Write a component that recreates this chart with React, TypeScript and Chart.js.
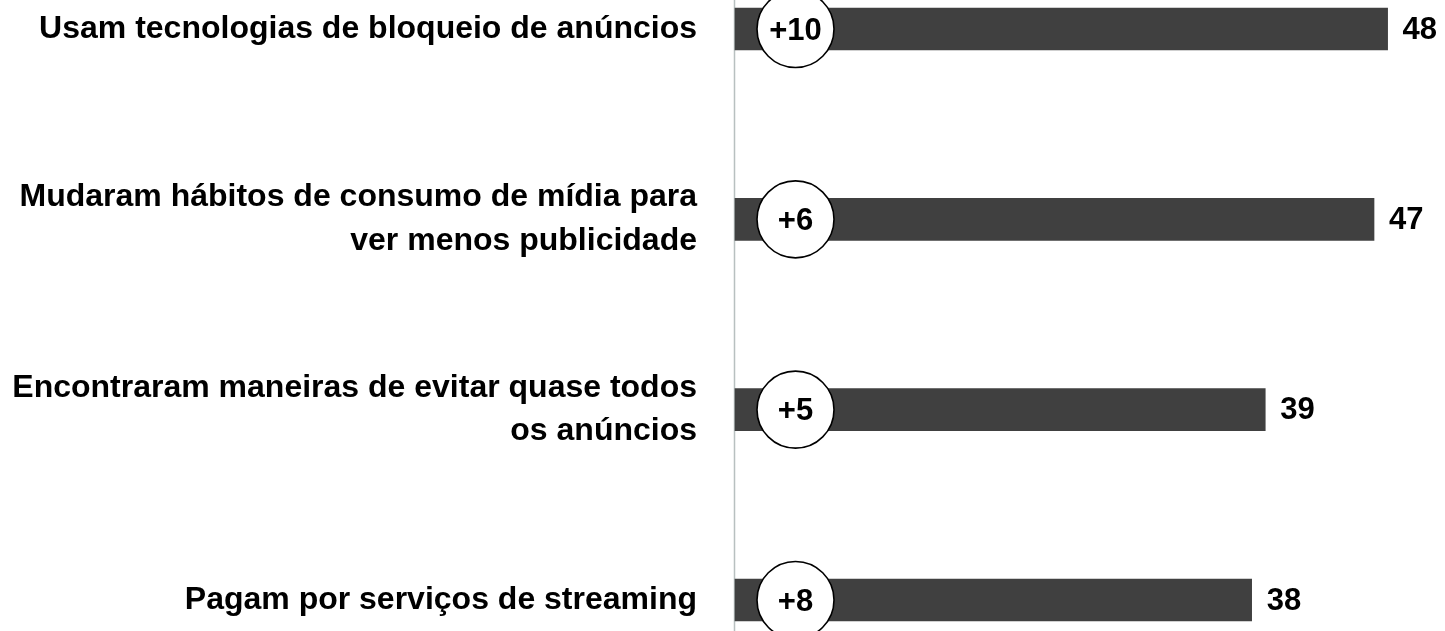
import React, { useEffect, useRef } from "react";
import { Chart, registerables } from "chart.js";

Chart.register(...registerables);

// ---- data ----
const categories: string[][] = [
  ["Usam tecnologias de bloqueio de anúncios"],
  ["Mudaram hábitos de consumo de mídia para", "ver menos publicidade"],
  ["Encontraram maneiras de evitar quase todos", "os anúncios"],
  ["Pagam por serviços de streaming"],
];
const values: number[] = [48, 47, 39, 38];
const changes: string[] = ["+10", "+6", "+5", "+8"];

// ---- styling constants ----
const FONT = "'Liberation Sans', Arial, Helvetica, sans-serif";
const BAR_COLOR = "#404040";
const AXIS_COLOR = "#b8c0c0";
const CIRCLE_AT = 4.45; // position of badge, in axis units
const CIRCLE_R = 38.5;

const overlayPlugin = {
  id: "overlay",
  beforeDatasetsDraw(chart: any) {
    const ctx = chart.ctx;
    const xs = chart.scales.x;
    const x0 = Math.round(xs.getPixelForValue(0)) - 0.5;
    ctx.save();
    ctx.strokeStyle = AXIS_COLOR;
    ctx.lineWidth = 1.5;
    ctx.beginPath();
    ctx.moveTo(x0, 0);
    ctx.lineTo(x0, chart.height);
    ctx.stroke();
    ctx.restore();
  },
  afterDatasetsDraw(chart: any) {
    const ctx = chart.ctx;
    const xs = chart.scales.x;
    const meta = chart.getDatasetMeta(0);
    const cx = xs.getPixelForValue(CIRCLE_AT);
    ctx.save();
    meta.data.forEach((bar: any, i: number) => {
      const y = bar.y;
      // badge circle
      ctx.beginPath();
      ctx.arc(cx, y, CIRCLE_R, 0, Math.PI * 2);
      ctx.fillStyle = "#ffffff";
      ctx.fill();
      ctx.lineWidth = 1.6;
      ctx.strokeStyle = "#000000";
      ctx.stroke();
      ctx.fillStyle = "#000000";
      ctx.font = `bold 31px ${FONT}`;
      ctx.textAlign = "center";
      ctx.textBaseline = "middle";
      ctx.fillText(changes[i], cx, y + 2);
      // value label
      ctx.textAlign = "left";
      ctx.fillText(String(values[i]), bar.x + 15, y + 1);
    });
    ctx.restore();
  },
};

export default function App() {
  const canvasRef = useRef<HTMLCanvasElement | null>(null);

  useEffect(() => {
    const canvas = canvasRef.current;
    if (!canvas) return;
    const chart = new Chart(canvas, {
      type: "bar",
      data: {
        labels: categories,
        datasets: [
          {
            data: values,
            backgroundColor: BAR_COLOR,
            barThickness: 42,
            clip: false as any,
          } as any,
        ],
      },
      options: {
        indexAxis: "y",
        responsive: false,
        animation: false,
        layout: { padding: { top: 29, bottom: 31, left: 0, right: 3 } },
        plugins: {
          legend: { display: false },
          tooltip: { enabled: false },
        },
        scales: {
          x: {
            display: false,
            min: 0,
            max: 52,
          },
          y: {
            type: "category",
            offset: false,
            grid: { display: false, drawTicks: false },
            border: { display: false },
            afterFit: (scale: any) => {
              scale.width = 735;
              scale.paddingTop = 0;
              scale.paddingBottom = 0;
            },
            ticks: {
              autoSkip: false,
              padding: 38,
              color: "#000000",
              font: { family: FONT, size: 32, weight: "bold", lineHeight: 1.37 },
            },
          },
        },
      },
      plugins: [overlayPlugin],
    });
    return () => chart.destroy();
  }, []);

  return (
    <div style={{ position: "absolute", left: 0, top: 0, width: 1445, height: 631, background: "#fff" }}>
      <canvas ref={canvasRef} width={1445} height={631} />
    </div>
  );
}
